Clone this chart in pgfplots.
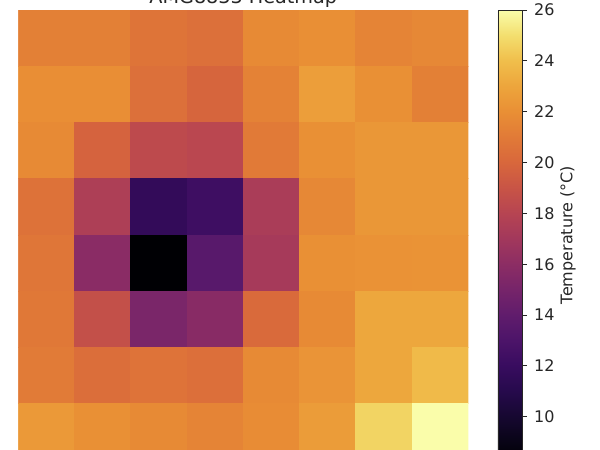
\documentclass[border=0pt]{standalone}
\usepackage{fontspec}
\setmainfont{DejaVu Sans}
\usepackage{pgfplots}
\usepackage{pgfplotstable}
\pgfplotsset{compat=1.18}
\pgfplotsset{
  colormap={obsinferno}{
    rgb255(83pt)=(0,0,4)
    rgb255(90pt)=(8,4,22)
    rgb255(100pt)=(22,8,48)
    rgb255(110pt)=(38,10,76)
    rgb255(120pt)=(56,12,95)
    rgb255(130pt)=(76,20,105)
    rgb255(140pt)=(96,28,108)
    rgb255(150pt)=(118,36,106)
    rgb255(160pt)=(140,45,100)
    rgb255(170pt)=(162,56,92)
    rgb255(180pt)=(182,68,82)
    rgb255(190pt)=(200,84,70)
    rgb255(200pt)=(216,103,60)
    rgb255(210pt)=(225,122,55)
    rgb255(220pt)=(233,143,53)
    rgb255(230pt)=(237,165,60)
    rgb255(240pt)=(240,190,75)
    rgb255(250pt)=(243,222,110)
    rgb255(260pt)=(250,253,170)
  }
}
\pgfplotstableread{
x y z
0 0 21.3
1 0 21.3
2 0 20.7
3 0 20.45
4 0 21.75
5 0 22.0
6 0 21.5
7 0 21.65
0 1 21.95
1 1 21.95
2 1 20.45
3 1 19.9
4 1 21.4
5 1 22.7
6 1 22.05
7 1 21.3
0 2 21.75
1 2 19.8
2 2 18.4
3 2 18.2
4 2 21.0
5 2 22.05
6 2 22.35
7 2 22.35
0 3 20.6
1 3 17.55
2 3 11.7
3 3 12.3
4 3 17.4
5 3 21.65
6 3 22.35
7 3 22.35
0 4 20.8
1 4 15.9
2 4 8.3
3 4 13.6
4 4 17.2
5 4 22.05
6 4 22.15
7 4 22.2
0 5 20.9
1 5 18.75
2 5 15.2
3 5 15.8
4 5 20.15
5 5 21.75
6 5 23.1
7 5 23.1
0 6 21.05
1 6 20.35
2 6 20.65
3 6 20.4
4 6 21.75
5 6 22.25
6 6 23.1
7 6 23.85
0 7 22.45
1 7 22.05
2 7 21.75
3 7 21.5
4 7 21.85
5 7 22.6
6 7 24.7
7 7 26.0
}\heatdata
\begin{document}
\begin{tikzpicture}
\path[use as bounding box] (0,0) rectangle (300pt,225pt);
\clip (0,0) rectangle (300pt,225pt);
\begin{axis}[
  at={(9.15pt,-5pt)}, anchor=south west,
  width=225pt, height=225pt, scale only axis,
  xmin=-0.5, xmax=7.5, ymin=-0.5, ymax=7.5,
  y dir=reverse,
  axis line style={draw=none},
  xtick=\empty, ytick=\empty,
  colormap name=obsinferno,
  point meta min=8.3, point meta max=26.0,
  colorbar,
  colorbar style={
    at={(parent axis.north east)}, anchor=north west, xshift=6.3pt,
    width=12pt, height=225pt, scale only axis,
    ytick={10,12,...,26},
    /pgf/number format/assume math mode=true,
    yticklabel style={font=\fontsize{8}{9.6}\selectfont, text=black!85},
    ytick pos=right, yticklabel pos=right,
    tick align=outside, major tick length=2.6pt,
    tick style={black!85, line width=0.45pt},
    axis line style={black!85, line width=0.45pt},
    ylabel={Temperature (°C)},
    ylabel style={font=\fontsize{8}{9.6}\selectfont, text=black!85,
      at={(axis description cs:2.92,0.5)}, anchor=center},
  },
]
\addplot[matrix plot*, mesh/cols=8, point meta=explicit] table[x=x, y=y, meta=z] {\heatdata};
\end{axis}
\node[anchor=base, font=\fontsize{9.6}{11.5}\selectfont, text=black!85] at (121.65pt,223pt) {AMG8833 Heatmap};
\end{tikzpicture}
\end{document}
